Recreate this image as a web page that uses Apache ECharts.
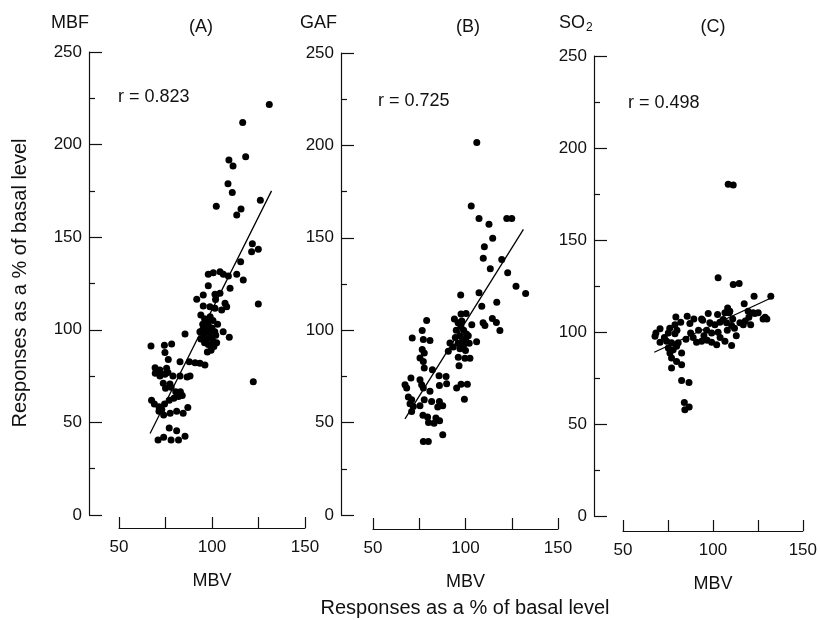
<!DOCTYPE html>
<html>
<head>
<meta charset="utf-8">
<script src="https://cdn.jsdelivr.net/npm/echarts@6/dist/echarts.min.js"></script>
<style>html,body{margin:0;padding:0;background:#fff}#c{width:820px;height:620px}</style>
</head>
<body>
<div id="c"></div>
<script>
// ---- data (MBV %, response %) ----
const pointsA = [
[130.8,221.6],[116.5,212],[118.1,193.5],[109.1,191.7],[111.3,188.4],[108.6,178.9],[110.9,174.2],[102.3,166.7],[126,170],[115.6,165.2],[113.3,162],[121.7,146.5],[124.9,143.5],[121.3,142.2],
[115.4,136.8],[98,130],[100.7,130.8],[104.3,131.4],[106.1,130],[108.8,129],[113.3,130],[116.8,126.9],[98,123.8],[109.7,122.4],[95.3,118.8],[101.6,119.2],[104.3,119.7],[91.8,116.5],[101.9,116.3],[107,114.3],[124.9,113.9],[95.3,112.9],[98.9,112.5],[101.6,111.6],[105.2,110.7],[107.9,112.5],
[94,108],[96,106],[97.5,104],[99,107],[100.5,105],[95,103],[97,101],[98.5,99],[100,101],[101.5,99],[93.5,99],[95.5,97],[97,95],[99,96],[100.5,94],[96,93],[98,92],[94,95],[102,97],[103,103],[99.5,89],[97.5,88],[101,91],[95,100],[96.5,98.5],[98,102.5],[102.5,93],
[85.5,97.7],[106,99],[109.3,96],[122.2,72],
[67.2,91.3],[74.4,91.6],[78.3,92.3],[74.7,87.8],[76.5,84],[82.8,82.8],[87.8,82.8],[90.9,82.2],[93.5,81.9],[96.2,81],
[69.4,79.5],[72,78.3],[75.6,79.2],
[69.5,76.5],[72,75],[74.7,76],[76.3,77],[79,75],[82.8,75],[86.6,74.5],[88.2,75],
[73.8,71.1],[77.4,70.7],[75,68.4],[78,69],[80.5,66.5],[83,66.5],
[67.5,62],[69,60],[71.5,58.5],[73,57],[74.5,60],[77,62],[79.5,63],[82,64],[84,64.5],
[71.5,56],[74,54],[77.5,55],[81,56],[84.5,55],[87,58],
[77,47],[81,45.5],[85.5,42.5],[74,42],[71,40.5],[78,40.5],[82,40.5]
];
const pointsB = [
[106.1,201.6],[103.1,167.2],[107.3,160.4],[112.7,157.3],[122.3,160.4],[125,160.4],[114.7,149.8],[110.2,145.2],[109.6,139],[119.6,138.3],[113.4,133.2],[122.8,131.1],
[127.3,123.8],[132.5,119.8],[107.3,120.2],[97.4,119.1],[116.9,115.1],[108.8,113],[97.6,108.8],[100.3,109],[114.5,106.3],[116.7,104.1],[118.6,99.8],[109.5,104],[110.5,102.5],
[79,105.2],[76.6,99.8],[71.2,95.8],[77.2,94.9],[80.8,94.4],
[94,106],[96,104],[97.5,102],[99,100],[100.5,98],[95,100],[97,97],[98.5,95],[100,95],[101.5,97],[96,93],[99,92],[102,93],[94.5,96],[97,90],[100,89],[98,105],[103.4,102.9],
[106,93.8],[96.1,85.3],[99.7,84.8],[102.4,84.8],[96.5,80.8],
[76.6,89.5],[77.7,87.7],[75.4,85],[77.2,83.1],[77.7,79.6],[82.1,78.6],[91.6,93.1],[93.4,90.9],[90.7,88.6],
[85.7,75.4],[89.5,75],[70.5,74.1],[75.4,73.2],[76.3,70.5],[77.2,68.7],[67.3,70.5],[68.2,68.7],[85.9,70.1],[89.8,71],[80.8,66.9],[95.2,68.7],[97.6,70.7],[101,70.7],[99.4,62.7],
[69.1,63.8],[70.9,62.4],[70,60.2],[71.8,58.7],[70.9,56],[75.4,59.1],[77.7,62.4],[81.7,61.4],[85.9,61.4],[85,58.4],[87.7,59.1],
[77,54],[79.5,53],[80,50],[83,49.7],[84,52.5],[86,51],[87.7,43.4],[77.2,39.8],[79.9,39.8]
];
const pointsC = [
[108.5,180.3],[111.3,179.9],[102.9,129.5],[111.3,125.8],[114.6,126.4],[122.9,119.4],[132.2,119.4],[117.4,115.3],[108.2,113.1],[97.4,110],[102.6,109.5],[79.4,108.2],[85.7,108.5],[89.4,107.1],[93.7,107.1],[106.7,110.4],[109.4,111.3],[119.6,111.3],[122.4,110.4],[125.2,110.4],
[109,110.4],[123.3,110],[127.9,107.1],
[82.1,105.3],[87.2,104.6],[78.9,104],[94.3,106.4],[98.3,105],[101.1,104],[103.9,105.3],[105.7,106.8],[107.6,105],[110.4,103.5],[115,105],[116.9,104],
[70.6,101.7],[68.3,99.5],[67.8,97.7],[75.2,99.5],[78.9,99],[87.6,99.5],[96.5,100.9],[99.3,99.5],[102.9,99.8],
[70.6,94.4],[74.3,95],[77,94.1],[80.7,94.1],[90.9,94.4],[93.7,95],[96.8,95.5],[99.3,94.4],[102.1,93.1],[106.7,95],[110.4,92.6],
[75.2,91.3],[77.9,90.4],[79.8,92.2],[82.6,88.6],[76.1,88.6],[77,85.9],[79.8,84],[82.6,82.2],[77,80.4],[82.6,73.7],[86.7,72.6],[84.1,61.7],[86.8,59.2],[84.4,57.7],
[112,102],[118,106],[120,108],[129,108],[130,107],[113,98],[104,97],[92,101],[89,97],[85,96],[73,97],[76,102],[80,101],[95,98],[108,101],[121,104],[111,107]
];
const lineA = [[66.7,44],[132,175]];
const lineB = [[67.3,52],[131.3,154.6]];
const lineC = [[67.4,89],[132.6,118.6]];
const rLabels = ['r = 0.823','r = 0.725','r = 0.498'];
const panelLetters = ['(A)','(B)','(C)'];
const xTickValues = [50,100,150];
const xName = 'MBV';
const yTitle = 'Responses as a % of basal level';
const xTitle = 'Responses as a % of basal level';

// ---- layout ----
const FONT = '"Liberation Sans", Arial, Helvetica, sans-serif';
const INK = '#111';
const grids = [
  {left:119, top:52, width:186, height:463, yOff:30, xOff:13},
  {left:373, top:53, width:185, height:462, yOff:32, xOff:14},
  {left:623, top:56, width:180, height:460, yOff:29, xOff:15}
];
const pts = [pointsA, pointsB, pointsC];
const lines = [lineA, lineB, lineC];

const option = {
  animation:false,
  backgroundColor:'#fff',
  grid: grids.map(g=>({left:g.left, top:g.top, width:g.width, height:g.height, containLabel:false})),
  xAxis: grids.map((g,i)=>({
    gridIndex:i, type:'value', min:50, max:150, interval:25, offset:g.xOff,
    name:xName, nameLocation:'middle', nameGap:44,
    nameTextStyle:{fontFamily:FONT, fontSize:18, color:INK},
    axisLine:{show:true, onZero:false, lineStyle:{color:INK, width:1.2}},
    axisTick:{show:true, inside:true, length:11, lineStyle:{color:INK, width:1.2}},
    axisLabel:{margin:11, fontFamily:FONT, fontSize:17, color:INK,
      formatter:v=> xTickValues.indexOf(v)>=0 ? String(v) : ''},
    splitLine:{show:false}
  })),
  yAxis: grids.map((g,i)=>({
    gridIndex:i, type:'value', min:0, max:250, interval:50, offset:g.yOff,
    axisLine:{show:true, onZero:false, lineStyle:{color:INK, width:1.2}},
    axisTick:{show:true, inside:true, length:13, lineStyle:{color:INK, width:1.2}},
    minorTick:{show:true, splitNumber:2, length:6, lineStyle:{color:INK, width:1.2}},
    axisLabel:{margin:7, fontFamily:FONT, fontSize:17, color:INK},
    splitLine:{show:false}
  })),
  series: [].concat(
    pts.map((p,i)=>({type:'scatter', xAxisIndex:i, yAxisIndex:i, data:p, symbolSize:7,
      itemStyle:{color:'#000', opacity:1}, silent:true})),
    lines.map((l,i)=>({type:'line', xAxisIndex:i, yAxisIndex:i, data:l, showSymbol:false,
      lineStyle:{color:'#000', width:1.3}, silent:true}))
  ),
  graphic: [
    {type:'text', left:51, top:14, style:{text:'MBF', font:'18px '+FONT, fill:INK}},
    {type:'text', left:300, top:14, style:{text:'GAF', font:'18px '+FONT, fill:INK}},
    {type:'text', left:559, top:14, style:{text:'{a|SO}{b|2}', fill:INK,
      rich:{a:{fontFamily:FONT, fontSize:18, fill:INK}, b:{fontFamily:FONT, fontSize:12, fill:INK, padding:[10,0,0,1]}}}},
    {type:'text', x:201, y:27, style:{text:panelLetters[0], font:'18px '+FONT, fill:INK, textAlign:'center', textVerticalAlign:'middle'}},
    {type:'text', x:468, y:27, style:{text:panelLetters[1], font:'18px '+FONT, fill:INK, textAlign:'center', textVerticalAlign:'middle'}},
    {type:'text', x:713, y:27, style:{text:panelLetters[2], font:'18px '+FONT, fill:INK, textAlign:'center', textVerticalAlign:'middle'}},
    {type:'text', x:118, y:97, style:{text:rLabels[0], font:'18px '+FONT, fill:INK, textVerticalAlign:'middle'}},
    {type:'text', x:378, y:101, style:{text:rLabels[1], font:'18px '+FONT, fill:INK, textVerticalAlign:'middle'}},
    {type:'text', x:628, y:103, style:{text:rLabels[2], font:'18px '+FONT, fill:INK, textVerticalAlign:'middle'}},
    {type:'text', x:465, y:608, style:{text:xTitle, font:'20px '+FONT, fill:INK, textAlign:'center', textVerticalAlign:'middle'}},
    {type:'text', x:20, y:283, rotation:Math.PI/2, style:{text:yTitle, font:'20px '+FONT, fill:INK, textAlign:'center', textVerticalAlign:'middle'}}
  ]
};
const chart = echarts.init(document.getElementById('c'), null, {renderer:'canvas'});
chart.setOption(option);
</script>
</body>
</html>
